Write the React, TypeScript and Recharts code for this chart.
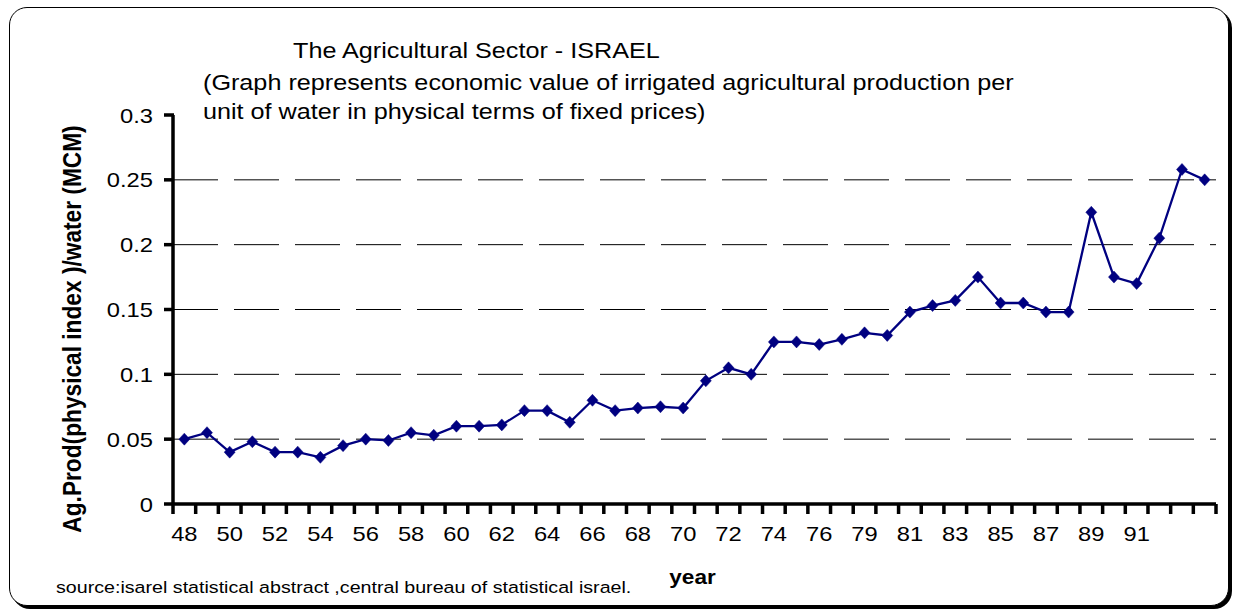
import { LineChart, Line, XAxis, YAxis, ReferenceLine } from "recharts";

// Survey years (one year is missing between 76 and 79 in the source series)
const years = [
  "48", "49", "50", "51", "52", "53", "54", "55", "56", "57",
  "58", "59", "60", "61", "62", "63", "64", "65", "66", "67",
  "68", "69", "70", "71", "72", "73", "74", "75", "76", "77",
  "79", "80", "81", "82", "83", "84", "85", "86", "87", "88",
  "89", "90", "91", "92", "93", "94",
];

// Ag. production (physical index) per MCM of water
const ratio = [
  0.05, 0.055, 0.04, 0.048, 0.04, 0.04, 0.036, 0.045, 0.05, 0.049,
  0.055, 0.053, 0.06, 0.06, 0.061, 0.072, 0.072, 0.063, 0.08, 0.072,
  0.074, 0.075, 0.074, 0.095, 0.105, 0.1, 0.125, 0.125, 0.123, 0.127,
  0.132, 0.13, 0.148, 0.153, 0.157, 0.175, 0.155, 0.155, 0.148, 0.148,
  0.225, 0.175, 0.17, 0.205, 0.258, 0.25,
];

// Year labels printed under the axis
const labelYears = [
  "48", "50", "52", "54", "56", "58", "60", "62", "64", "66", "68",
  "70", "72", "74", "76", "79", "81", "83", "85", "87", "89", "91",
];

const yTicks = [0, 0.05, 0.1, 0.15, 0.2, 0.25, 0.3];
const gridValues = [0.05, 0.1, 0.15, 0.2, 0.25];

const data = years.map((year, i) => ({ idx: i, year, ratio: ratio[i] }));

// tick marks sit between categories, labels sit on them
const edgeTicks = Array.from({ length: years.length + 1 }, (_, i) => i - 0.5);
const labelTicks = labelYears.map((y) => years.indexOf(y));
const xTicks = [...edgeTicks, ...labelTicks].sort((a, b) => a - b);

const FONT = '"Liberation Sans", Arial, Helvetica, sans-serif';
const SX = 1.13; // glyphs are drawn a little wide

const NAVY = "#000080";

function YearTick(props: any) {
  const { x, y, payload } = props;
  const v = Number(payload?.value);
  if (!Number.isInteger(v)) {
    return <rect x={x - 1.75} y={y} width={3.5} height={10} fill="#000" />;
  }
  return (
    <text
      transform={`translate(${x},${y + 37}) scale(${SX},1)`}
      textAnchor="middle"
      fontFamily={FONT}
      fontSize={21}
      fill="#000"
    >
      {years[v]}
    </text>
  );
}

function ValueTick(props: any) {
  const { x, y, payload } = props;
  return (
    <g>
      <rect x={x + 11} y={y - 1.75} width={10} height={3.5} fill="#000" />
      <text
        transform={`translate(${x},${y + 7.6}) scale(${SX},1)`}
        textAnchor="end"
        fontFamily={FONT}
        fontSize={21}
        fill="#000"
      >
        {String(payload.value)}
      </text>
    </g>
  );
}

function Diamond(props: any) {
  const { cx, cy, index } = props;
  if (cx == null || cy == null) return null;
  const w = 5.5;
  const h = 6;
  return (
    <polygon
      key={`d-${index}`}
      points={`${cx},${cy - h} ${cx + w},${cy} ${cx},${cy + h} ${cx - w},${cy}`}
      fill={NAVY}
      stroke={NAVY}
      strokeWidth={0.5}
    />
  );
}

function Label({ x, y, size, bold, anchor, children }: any) {
  return (
    <text
      transform={`translate(${x},${y}) scale(${SX},1)`}
      fontFamily={FONT}
      fontSize={size}
      fontWeight={bold ? "bold" : "normal"}
      textAnchor={anchor || "start"}
      fill="#000"
    >
      {children}
    </text>
  );
}

export default function App() {
  return (
    <div
      style={{
        position: "fixed",
        left: 0,
        top: 0,
        width: 1240,
        height: 615,
        background: "#fff",
        overflow: "hidden",
      }}
    >
      <div
        style={{
          position: "absolute",
          left: 9,
          top: 7,
          width: 1218,
          height: 597,
          border: "1px solid #000",
          borderRadius: 18,
          boxShadow: "3px 3px 0 #000",
          background: "#fff",
        }}
      />
      <div style={{ position: "absolute", left: 0, top: 0 }}>
        <LineChart
          width={1240}
          height={615}
          data={data}
          margin={{ top: 115, right: 24, bottom: 61, left: 113 }}
        >
          <XAxis
            type="number"
            dataKey="idx"
            domain={[-0.5, years.length - 0.5]}
            ticks={xTicks}
            interval={0}
            tickLine={false}
            tickSize={0}
            tickMargin={0}
            tick={<YearTick />}
            stroke="#000"
            strokeWidth={3.5}
            height={50}
          />
          <YAxis
            domain={[0, 0.3]}
            ticks={yTicks}
            interval={0}
            width={60}
            tickSize={9}
            tickMargin={11}
            tick={<ValueTick />}
            tickLine={false}
            stroke="#000"
            strokeWidth={3.5}
          />
          {gridValues.map((v) => (
            <ReferenceLine
              key={v}
              y={v}
              stroke="#000"
              strokeWidth={1}
              strokeDasharray="45 16"
            />
          ))}
          <Line
            type="linear"
            dataKey="ratio"
            stroke={NAVY}
            strokeWidth={2.3}
            dot={<Diamond />}
            activeDot={false}
            isAnimationActive={false}
          />
        </LineChart>
      </div>
      <svg
        width={1240}
        height={615}
        style={{ position: "absolute", left: 0, top: 0, pointerEvents: "none" }}
      >
        <Label x={293} y={58} size={22.3}>
          The Agricultural Sector - ISRAEL
        </Label>
        <Label x={203} y={90} size={22.3}>
          (Graph represents economic value of irrigated agricultural production per
        </Label>
        <Label x={203} y={119} size={22.3}>
          unit of water in physical terms of fixed prices)
        </Label>
        <Label x={56} y={592.5} size={17.4}>
          source:isarel statistical abstract ,central bureau of statistical israel.
        </Label>
        <Label x={692.5} y={584} size={20} bold anchor="middle">
          year
        </Label>
        <text
          transform={`translate(80.7,329) rotate(-90) scale(1,${SX})`}
          fontFamily={FONT}
          fontSize={22.7}
          fontWeight="bold"
          textAnchor="middle"
          fill="#000"
        >
          Ag.Prod(physical index )/water (MCM)
        </text>
      </svg>
    </div>
  );
}
